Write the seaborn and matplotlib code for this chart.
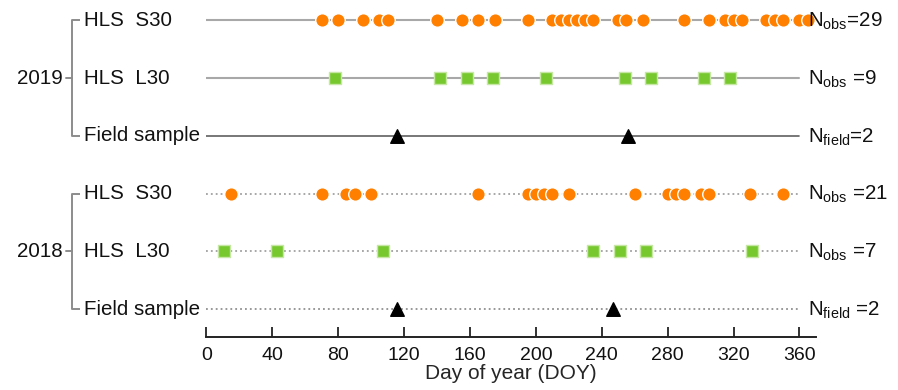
import numpy as np
import pandas as pd
import matplotlib
matplotlib.use("Agg")
import matplotlib.pyplot as plt
import matplotlib.transforms as mtransforms
import seaborn as sns

# ---------------- data ----------------
s30_2019 = [70, 80, 95, 105, 110, 140, 155, 165, 175, 195, 210, 215, 220, 225, 230,
            235, 250, 255, 265, 290, 305, 315, 320, 325, 340, 345, 350, 360, 365]
l30_2019 = [78, 142, 158, 174, 206, 254, 270, 302, 318]
field_2019 = [116, 256]
s30_2018 = [15, 70, 85, 90, 100, 165, 195, 200, 205, 210, 220, 260, 280, 285, 290,
            300, 305, 330, 350]
l30_2018 = [11, 43, 107, 235, 251, 267, 331]
field_2018 = [116, 247]

row_labels = ["HLS  S30", "HLS  L30", "Field sample", "HLS  S30", "HLS  L30", "Field sample"]
years = ["2019", "2018"]
count_labels = [r"N$_{\mathrm{obs}}$=29", r"N$_{\mathrm{obs}}$ =9", r"N$_{\mathrm{field}}$=2",
                r"N$_{\mathrm{obs}}$ =21", r"N$_{\mathrm{obs}}$ =7", r"N$_{\mathrm{field}}$ =2"]
xticks = [0, 40, 80, 120, 160, 200, 240, 280, 320, 360]

# ---------------- style ----------------
sns.set_theme(style="white")
plt.rcParams["font.family"] = ["Liberation Sans", "DejaVu Sans"]
plt.rcParams["mathtext.fontset"] = "custom"
plt.rcParams["mathtext.rm"] = "Liberation Sans"
plt.rcParams["mathtext.it"] = "Liberation Sans:italic"
plt.rcParams["mathtext.default"] = "regular"

FS = 14.8
ORANGE = "#FF8000"
GREEN = "#76C82E"

fig = plt.figure(figsize=(8.98, 3.90), dpi=100)
ax = fig.add_axes([206.3 / 898, 53 / 390, 609.6 / 898, 337 / 390])

series = [
    (s30_2019, 5, "o", ORANGE, "white", 95, "#a8a8a8", "-", 1.5),
    (l30_2019, 4, "s", GREEN, "#c6e8a4", 80, "#a8a8a8", "-", 1.5),
    (field_2019, 3, "^", "black", "black", 95, "#606060", "-", 1.2),
    (s30_2018, 2, "o", ORANGE, "white", 95, "#a0a0a0", ":", 1.3),
    (l30_2018, 1, "s", GREEN, "#c6e8a4", 80, "#a0a0a0", ":", 1.3),
    (field_2018, 0, "^", "black", "black", 95, "#909090", ":", 1.3),
]

for vals, row, mk, col, ec, size, lcol, ls, lw in series:
    line_df = pd.DataFrame({"doy": [0, 360], "row": [row, row]})
    sns.lineplot(data=line_df, x="doy", y="row", ax=ax, color=lcol, lw=lw,
                 linestyle=ls, zorder=1)
    df = pd.DataFrame({"doy": vals, "row": [row] * len(vals)})
    sns.scatterplot(data=df, x="doy", y="row", ax=ax, marker=mk, color=col,
                    s=size, edgecolor=ec, linewidth=1.0, zorder=3)

for ln in ax.lines:
    if ln.get_linestyle() == ":":
        ln.set_dashes((1, 1.7))

ax.set_xlim(0, 370)
ax.set_ylim(-0.48, 5.35)
ax.set_xticks(xticks)
ax.set_xticklabels([str(t) for t in xticks], fontsize=14)
ax.set_yticks([])
ax.set_ylabel("")
ax.set_xlabel("Day of year (DOY)", fontsize=15, labelpad=0.5)
for side in ["left", "right", "top"]:
    ax.spines[side].set_visible(False)
ax.spines["bottom"].set_color("#222222")
ax.spines["bottom"].set_linewidth(1.4)
ax.tick_params(axis="x", direction="in", length=7, width=1.3, color="#222222",
               bottom=True, pad=7, labelcolor="#111111")

# ---------------- left labels / brackets ----------------
trans = mtransforms.blended_transform_factory(fig.transFigure, ax.transData)
rows = [5, 4, 3, 2, 1, 0]
for r, lab in zip(rows, row_labels):
    ax.text(84 / 898, r, lab, transform=trans, fontsize=FS, ha="left", va="center",
            color="#111111", clip_on=False)

for r, lab in zip(rows, count_labels):
    ax.text(808 / 898, r - 0.02, lab, transform=trans, fontsize=FS, ha="left",
            va="center", color="#111111", clip_on=False)

bx = 72 / 898
bx_r = 80 / 898
bx_l = 66 / 898
for top, mid, bot, yr in [(5, 4, 3, years[0]), (2, 1, 0, years[1])]:
    ax.plot([bx_r, bx, bx, bx_r], [top, top, bot, bot], transform=trans, color="#8c8c8c",
            lw=1.4, clip_on=False, solid_capstyle="butt")
    ax.plot([bx_l, bx], [mid, mid], transform=trans, color="#8c8c8c", lw=1.4,
            clip_on=False)
    ax.text(63 / 898, mid, yr, transform=trans, fontsize=FS, ha="right", va="center",
            color="#111111", clip_on=False)

fig.savefig("out.png", dpi=100)
